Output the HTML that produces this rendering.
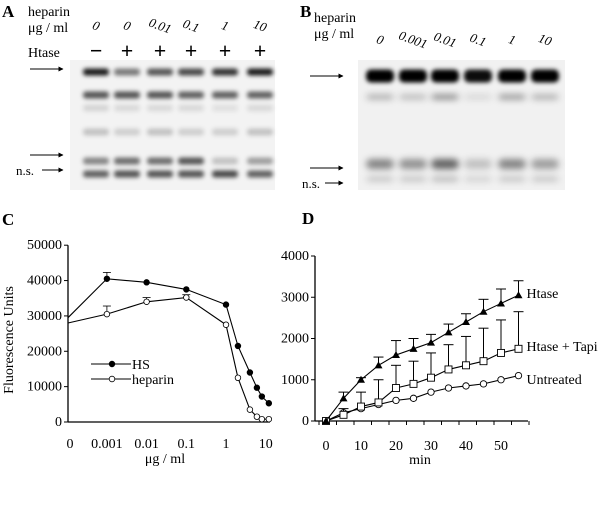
<!DOCTYPE html>
<html><head><meta charset="utf-8"><style>
body{margin:0;background:#fff;}
svg{display:block;}
text{font-family:"Liberation Serif","DejaVu Serif",serif;}
</style></head><body>
<svg id="fig" width="600" height="513" viewBox="0 0 600 513">
<defs>
<filter id="bl" x="-30%" y="-150%" width="160%" height="400%"><feGaussianBlur stdDeviation="2"/></filter>
<filter id="bl2" x="-30%" y="-150%" width="160%" height="400%"><feGaussianBlur stdDeviation="3.5"/></filter>
<marker id="ah" viewBox="0 0 10 10" refX="9" refY="5" markerWidth="5" markerHeight="5" orient="auto"><path d="M0,0 L10,5 L0,10z" fill="#000"/></marker>
</defs>
<g>
<text x="2" y="17" font-size="17" font-weight="bold">A</text>
<text x="28" y="16" font-size="14">heparin</text>
<text x="28" y="32" font-size="14">μg / ml</text>
<text x="28" y="57" font-size="14">Htase</text>
<rect x="70" y="60" width="205" height="130" fill="#f3f3f3"/>
<g id="gelA"></g>
<line x1="30" y1="69" x2="63" y2="69" stroke="#000" stroke-width="1" marker-end="url(#ah)"/>
<line x1="30" y1="155" x2="63" y2="155" stroke="#000" stroke-width="1" marker-end="url(#ah)"/>
<line x1="42" y1="170" x2="63" y2="170" stroke="#000" stroke-width="1" marker-end="url(#ah)"/>
<text x="16" y="175" font-size="13">n.s.</text>
</g>
<g>
<text x="300" y="17" font-size="17" font-weight="bold">B</text>
<text x="314" y="22" font-size="14">heparin</text>
<text x="314" y="38" font-size="14">μg / ml</text>
<rect x="358" y="60" width="207" height="130" fill="#f1f1f1"/>
<g id="gelB"></g>
<line x1="310" y1="76" x2="343" y2="76" stroke="#000" stroke-width="1" marker-end="url(#ah)"/>
<line x1="310" y1="168" x2="343" y2="168" stroke="#000" stroke-width="1" marker-end="url(#ah)"/>
<line x1="325" y1="183" x2="343" y2="183" stroke="#000" stroke-width="1" marker-end="url(#ah)"/>
<text x="302" y="188" font-size="13">n.s.</text>
</g>
<g id="panelC">
<text x="2" y="225" font-size="17" font-weight="bold">C</text>
<text transform="translate(13,340) rotate(-90)" text-anchor="middle" font-size="14">Fluorescence Units</text>
<text x="165" y="463" text-anchor="middle" font-size="14">μg / ml</text>
</g>
<g id="panelD">
<text x="302" y="224" font-size="17" font-weight="bold">D</text>
<text x="420" y="464" text-anchor="middle" font-size="14">min</text>
</g>
</svg>
<script>
const NS='http://www.w3.org/2000/svg';
function mk(p,t,a){const e=document.createElementNS(NS,t);for(const k in a)e.setAttribute(k,a[k]);p.appendChild(e);return e;}
const laneA=[96,127,160,191,225,260];
const laneALabels=['0','0','0.01','0.1','1','10'];
const htaseSigns=['−','+','+','+','+','+'];
const bandsA=[[72,[0.9,0.5,0.65,0.7,0.8,0.9]],[95,[0.65,0.65,0.65,0.6,0.6,0.6]],[108,[0.12,0.1,0.1,0.1,0.08,0.1]],[132,[0.2,0.15,0.2,0.15,0.15,0.2]],[161,[0.45,0.55,0.55,0.65,0.2,0.35]],[174,[0.6,0.65,0.65,0.65,0.7,0.6]]];
const laneB=[380,413,445,478,512,545];
const laneBLabels=['0','0.001','0.01','0.1','1','10'];
const bandsB=[[76,[1,1,1,0.95,1,1]],[97,[0.3,0.25,0.45,0.12,0.4,0.3]],[164,[0.45,0.4,0.6,0.2,0.45,0.35]],[179,[0.2,0.2,0.25,0.15,0.2,0.2]]];
const gA=document.getElementById('gelA'),gB=document.getElementById('gelB');
laneA.forEach((x,i)=>{
 const t=mk(gA,'text',{x:x,y:30,'text-anchor':'middle','font-size':13,'font-style':'italic',transform:`rotate(20 ${x} 26)`});t.textContent=laneALabels[i];
 
 
 const s=mk(gA,'text',{x:x,y:58,'text-anchor':'middle','font-size':22,'font-weight':'bold','font-family':'Liberation Sans,sans-serif'});s.textContent=htaseSigns[i];
 
 
 bandsA.forEach(b=>{const r=mk(gA,'rect',{x:x-13,y:b[0]-3.5,width:26,height:7,rx:3,fill:'#000','fill-opacity':b[1][i],filter:'url(#bl)'});
 
 });
});
laneB.forEach((x,i)=>{
 const t=mk(gB,'text',{x:x,y:44,'text-anchor':'middle','font-size':13,'font-style':'italic',transform:`rotate(20 ${x} 40)`});t.textContent=laneBLabels[i];
 
 
 bandsB.forEach((b,j)=>{const h=j==0?13:(j==2?10:5);const r=mk(gB,'rect',{x:x-14,y:b[0]-h/2,width:28,height:h,rx:5,fill:'#000','fill-opacity':b[1][i],filter:j==0?'url(#bl)':'url(#bl2)'});
 
 });
});
const cYTicks=[0,10000,20000,30000,40000,50000];
const cXTickLabels=['0','0.001','0.01','0.1','1','10'];
const cXTickVals=[0,0.001,0.01,0.1,1,10];
const hsX=[0,0.001,0.01,0.1,1,2,4,6,8,12];
const hsY=[29500,40500,39500,37500,33200,21500,14000,9700,7200,5300];
const hsErr=[0,1800,0,0,0,0,0,0,0,0];
const hepX=[0,0.001,0.01,0.1,1,2,4,6,8,12];
const hepY=[28000,30500,34000,35200,27500,12500,3500,1500,800,800];
const hepErr=[0,2300,1200,800,0,0,0,0,0,0];
const cX=v=>v<=0?68:226+39.7*Math.log10(v);
const cY=v=>422-v*0.003536;
const pc=document.getElementById('panelC');
let l=mk(pc,'line',{x1:68,y1:cY(50000),x2:68,y2:422,stroke:'#000','stroke-width':1.3});

l=mk(pc,'line',{x1:68,y1:422,x2:270,y2:422,stroke:'#000','stroke-width':1.3});

cYTicks.forEach(v=>{mk(pc,'line',{x1:64,x2:68,y1:cY(v),y2:cY(v),stroke:'#000'});
 const t=mk(pc,'text',{x:62,y:cY(v)+4,'text-anchor':'end','font-size':14});t.textContent=v;
 });
cXTickVals.forEach((v,i)=>{const x=v===0?70:cX(v);
 const t=mk(pc,'text',{x:x,y:448,'text-anchor':'middle','font-size':14});t.textContent=cXTickLabels[i];
 });
function cSeries(xs,ys,errs,fill,name){
 xs.forEach((x,i)=>{if(errs[i]){const px=cX(x),y1=cY(ys[i]),y2=cY(ys[i]+errs[i]);
  mk(pc,'line',{x1:px,x2:px,y1:y1,y2:y2,stroke:'#000','stroke-width':0.8});mk(pc,'line',{x1:px-4,x2:px+4,y1:y2,y2:y2,stroke:'#000','stroke-width':0.8});}});
 const p=mk(pc,'polyline',{points:xs.map((x,i)=>cX(x)+','+cY(ys[i])).join(' '),fill:'none',stroke:'#000','stroke-width':1.1});
 
 xs.forEach((x,i)=>{if(x===0)return;const c=mk(pc,'circle',{cx:cX(x),cy:cY(ys[i]),r:2.8,fill:fill,stroke:'#000','stroke-width':0.8});
 });
}
cSeries(hepX,hepY,hepErr,'#fff','heparin');
cSeries(hsX,hsY,hsErr,'#000','hs');
[['HS','#000',364],['heparin','#fff',379]].forEach(a=>{
 mk(pc,'line',{x1:91,x2:131,y1:a[2],y2:a[2],stroke:'#000'});
 mk(pc,'circle',{cx:112,cy:a[2],r:2.8,fill:a[1],stroke:'#000','stroke-width':0.8});
 const t=mk(pc,'text',{x:132,y:a[2]+5,'font-size':14});t.textContent=a[0];
 });
const dYTicks=[0,1000,2000,3000,4000];
const dXTicks=[0,10,20,30,40,50];
const dTimes=[0,5,10,15,20,25,30,35,40,45,50,55];
const htaseVals=[0,550,1000,1350,1600,1750,1900,2150,2400,2650,2850,3050];
const htaseErr=[0,150,50,200,350,250,200,200,200,300,350,350];
const tapiVals=[0,150,350,450,800,900,1050,1250,1350,1450,1650,1750];
const tapiErr=[0,150,350,550,550,550,600,600,700,800,800,900];
const untreatedVals=[0,200,300,400,500,550,700,800,850,900,1000,1100];
const dX=v=>326+3.5*v;
const dY=v=>421-v*0.04125;
const pd=document.getElementById('panelD');
l=mk(pd,'line',{x1:315,y1:dY(4000),x2:315,y2:421,stroke:'#000','stroke-width':1.3});

l=mk(pd,'line',{x1:315,y1:421,x2:528,y2:421,stroke:'#000','stroke-width':1.3});

dYTicks.forEach(v=>{mk(pd,'line',{x1:311,x2:315,y1:dY(v),y2:dY(v),stroke:'#000'});
 const t=mk(pd,'text',{x:309,y:dY(v)+4,'text-anchor':'end','font-size':14});t.textContent=v;
 });
for(let m=-2;m<=58;m+=5){const x=dX(m);mk(pd,'line',{x1:x,x2:x,y1:421,y2:425,stroke:'#000'});}
dXTicks.forEach(v=>{const t=mk(pd,'text',{x:dX(v),y:450,'text-anchor':'middle','font-size':14});t.textContent=v;
 });
function dSeries(vals,errs,shape,name,label,ly){
 if(errs)dTimes.forEach((t,i)=>{if(!errs[i])return;const x=dX(t),y1=dY(vals[i]),y2=dY(vals[i]+errs[i]);
  mk(pd,'line',{x1:x,x2:x,y1:y1,y2:y2,stroke:'#000','stroke-width':1});mk(pd,'line',{x1:x-5,x2:x+5,y1:y2,y2:y2,stroke:'#000','stroke-width':1});});
 const p=mk(pd,'polyline',{points:dTimes.map((t,i)=>dX(t)+','+dY(vals[i])).join(' '),fill:'none',stroke:'#000','stroke-width':1.1});
 
 dTimes.forEach((t,i)=>{const x=dX(t),y=dY(vals[i]);let e;
  if(shape==='tri')e=mk(pd,'polygon',{points:`${x},${y-4} ${x-4},${y+3} ${x+4},${y+3}`,fill:'#000'});
  else if(shape==='sq')e=mk(pd,'rect',{x:x-3.5,y:y-3.5,width:7,height:7,fill:'#fff',stroke:'#000','stroke-width':0.9});
  else e=mk(pd,'circle',{cx:x,cy:y,r:3.2,fill:'#fff',stroke:'#000','stroke-width':0.9});
  });
 const t=mk(pd,'text',{x:dX(55)+8,y:ly,'font-size':14});t.textContent=label;
 
}
dSeries(untreatedVals,null,'circ','untreated','Untreated',384);
dSeries(tapiVals,tapiErr,'sq','htase-tapi','Htase + Tapi',351);
dSeries(htaseVals,htaseErr,'tri','htase','Htase',298);
</script>
</body></html>
